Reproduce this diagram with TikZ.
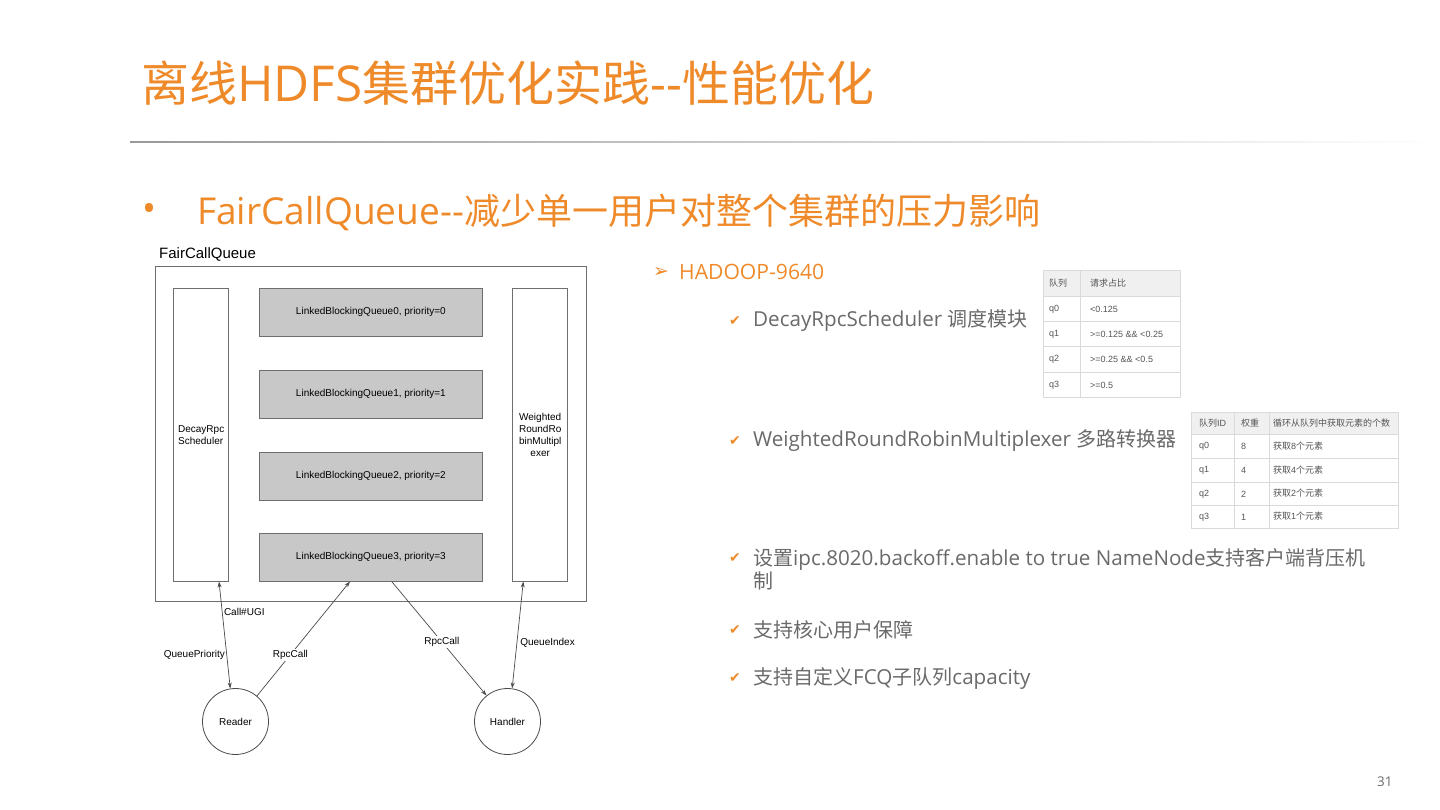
\documentclass[tikz,border=0pt]{standalone}
\usepackage{fontspec}
\setmainfont{Open Sans}[Scale=1.03]
\newfontfamily\cjk{Noto Sans CJK SC}
\newfontfamily\arial{Liberation Sans}
\newfontfamily\sym{DejaVu Sans}
\usetikzlibrary{arrows.meta,calc}
\definecolor{orng}{HTML}{EF8A2A}
\definecolor{txtgray}{HTML}{6A6A6A}
\definecolor{linegray}{HTML}{4A4A4A}
\definecolor{boxgray}{HTML}{6E6E6E}
\definecolor{qfill}{HTML}{C8C8C8}
\definecolor{tline}{HTML}{DADADA}
\definecolor{thead}{HTML}{F0F0F0}
\definecolor{ttext}{HTML}{555555}
\begin{document}
\begin{tikzpicture}[x=1pt,y=-1pt,
  titletxt/.style={anchor=west, inner sep=0, text=orng, font=\fontsize{48}{56}\selectfont},
  subtxt/.style={anchor=west, inner sep=0, text=orng, font=\fontsize{36}{42}\selectfont},
  itemtxt/.style={anchor=west, inner sep=0, text=txtgray, font=\fontsize{20}{23}\selectfont, align=left},
  chk/.style={anchor=west, inner sep=0, text=orng, font=\sym\fontsize{14}{16}\selectfont},
  tcell/.style={anchor=west, inner sep=0, text=ttext, font=\arial\fontsize{9}{11}\selectfont},
  dtxt/.style={font=\arial\fontsize{10}{12}\selectfont, text=black},
  tallbox/.style={draw=boxgray, line width=0.8, anchor=north west, minimum width=55, minimum height=292.7, inner sep=0, dtxt},
  qbox/.style={draw=boxgray, line width=0.8, fill=qfill, anchor=north west, minimum width=222.4, minimum height=48, inner sep=0, dtxt},
  actor/.style={draw=linegray, line width=0.8, circle, minimum size=66, inner sep=0, dtxt},
  conn/.style={draw=linegray, line width=0.7},
  tip/.style={-{Stealth[length=6pt,width=4pt]}},
  tips/.style={{Stealth[length=6pt,width=4pt]}-{Stealth[length=6pt,width=4pt]}},
  lbl/.style={dtxt, inner sep=1.5}
]
\useasboundingbox[fill=white] (0,0) rectangle (1440,810);

% title
\node[titletxt] (title) at (141,83) {{\cjk 离线}HDFS{\cjk 集群优化实践}-{}-{\cjk 性能优化}};
\shade[left color=black!40, right color=white] (130,141.3) rectangle (1440,142.7);

% subtitle
\node[subtxt] (bullet) at (142,212) {•};
\node[subtxt] (subtitle) at (197,212) {FairCallQueue-{}-{\cjk 减少单一用户对整个集群的压力影响}};

% ---------------- diagram ----------------
\node[anchor=west, inner sep=0, font=\arial\fontsize{15}{17}\selectfont] (fcqlabel) at (159,254) {FairCallQueue};
\node[draw=boxgray, line width=0.8, anchor=north west, minimum width=431, minimum height=334.7, inner sep=0] (outer) at (155,266) {};
\node[tallbox, align=left] (sched) at (173.3,288) {DecayRpc\\Scheduler};
\node[tallbox, align=center] (wrrm) at (512.3,288) {Weighted\\RoundRo\\binMultipl\\exer};
\node[qbox] (q0) at (259.3,288) {LinkedBlockingQueue0, priority=0};
\node[qbox] (q1) at (259.3,369.5) {LinkedBlockingQueue1, priority=1};
\node[qbox] (q2) at (259.3,451.5) {LinkedBlockingQueue2, priority=2};
\node[qbox] (q3) at (259.3,532.7) {LinkedBlockingQueue3, priority=3};
\node[actor] (reader) at (235.5,721.5) {Reader};
\node[actor] (handler) at (507.5,721.5) {Handler};

\draw[conn, tips] ($(sched.south west)+(45.7,0)$) -- (reader.99)
  node[lbl, pos=0.28, anchor=west] (callugi) {Call\#UGI}
  node[lbl, pos=0.69, anchor=east] (qprio) {QueuePriority};
\draw[conn, tip] (reader.50) -- ($(q3.south west)+(90.7,0)$)
  node[lbl, pos=0.36, fill=white] (rpc1) {RpcCall};
\draw[conn, tip] ($(q3.south west)+(132.4,0)$) -- (handler.129)
  node[lbl, pos=0.53, fill=white] (rpc2) {RpcCall};
\draw[conn, tips] ($(wrrm.south west)+(11,0)$) -- (handler.82)
  node[lbl, pos=0.57, anchor=west, inner sep=3] (qidx) {QueueIndex};

% ---------------- right text ----------------
\node[chk, font=\sym\fontsize{19}{21}\selectfont] (arrowbul) at (653,272) {➢};
\node[anchor=west, inner sep=0, text=orng, font=\fontsize{20.5}{24}\selectfont] (hadoop) at (679,272) {HADOOP-9640};

\node[chk] (c1) at (729,321) {✔};
\node[itemtxt] (i1) at (753,321) {DecayRpcScheduler {\cjk 调度模块}};
\node[chk] (c2) at (729,441) {✔};
\node[itemtxt] (i2) at (753,441) {WeightedRoundRobinMultiplexer {\cjk 多路转换器}};
\node[chk] (c3) at (729,558) {✔};
\node[itemtxt] (i3) at (753,569.5) {{\cjk 设置}ipc.8020.backoff.enable to true NameNode{\cjk 支持客户端背压机}\\{\cjk 制}};
\node[chk] (c4) at (729,630) {✔};
\node[itemtxt] (i4) at (753,630) {{\cjk 支持核心用户保障}};
\node[chk] (c5) at (729,678) {✔};
\node[itemtxt] (i5) at (753,678) {{\cjk 支持自定义}FCQ{\cjk 子队列}capacity};

% ---------------- table 1 ----------------
\fill[thead] (1043,270) rectangle (1180,296);
\draw[tline, line width=0.8] (1043,270) rectangle (1180,397);
\foreach \yy in {296,321,346,372} \draw[tline, line width=0.8] (1043,\yy) -- (1180,\yy);
\draw[tline, line width=0.8] (1080,270) -- (1080,397);
\node[tcell] (t1h1) at (1049,283) {\cjk 队列};
\node[tcell] (t1h2) at (1090,283) {\cjk 请求占比};
\node[tcell] (t1a1) at (1049,309) {q0};
\node[tcell] (t1a2) at (1090,309) {<0.125};
\node[tcell] (t1b1) at (1049,334) {q1};
\node[tcell] (t1b2) at (1090,334) {>=0.125 \&\& <0.25};
\node[tcell] (t1c1) at (1049,359.5) {q2};
\node[tcell] (t1c2) at (1090,359.5) {>=0.25 \&\& <0.5};
\node[tcell] (t1d1) at (1049,385) {q3};
\node[tcell] (t1d2) at (1090,385) {>=0.5};

% ---------------- table 2 ----------------
\fill[thead] (1191,412) rectangle (1398,434);
\draw[tline, line width=0.8] (1191,412) rectangle (1398,528);
\foreach \yy in {434,458,482,505} \draw[tline, line width=0.8] (1191,\yy) -- (1398,\yy);
\draw[tline, line width=0.8] (1234,412) -- (1234,528);
\draw[tline, line width=0.8] (1269,412) -- (1269,528);
\node[tcell] (t2h1) at (1199,423) {{\cjk 队列}ID};
\node[tcell] (t2h2) at (1241,423) {\cjk 权重};
\node[tcell] (t2h3) at (1273,423) {\cjk 循环从队列中获取元素的个数};
\node[tcell] (t2a1) at (1199,446.5) {q0};
\node[tcell] (t2a2) at (1241,446.5) {8};
\node[tcell] (t2a3) at (1273,446) {{\cjk 获取}8{\cjk 个元素}};
\node[tcell] (t2b1) at (1199,470.5) {q1};
\node[tcell] (t2b2) at (1241,470.5) {4};
\node[tcell] (t2b3) at (1273,470) {{\cjk 获取}4{\cjk 个元素}};
\node[tcell] (t2c1) at (1199,494) {q2};
\node[tcell] (t2c2) at (1241,494) {2};
\node[tcell] (t2c3) at (1273,493.5) {{\cjk 获取}2{\cjk 个元素}};
\node[tcell] (t2d1) at (1199,517) {q3};
\node[tcell] (t2d2) at (1241,517) {1};
\node[tcell] (t2d3) at (1273,516.5) {{\cjk 获取}1{\cjk 个元素}};

% page number
\node[anchor=west, inner sep=0, text=txtgray, font=\fontsize{13}{15}\selectfont] (pnum) at (1377,782) {31};
\end{tikzpicture}
\end{document}
